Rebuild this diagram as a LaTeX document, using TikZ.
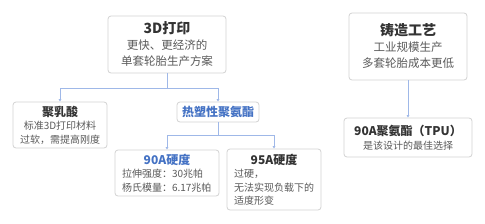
\documentclass[tikz,border=0pt]{standalone}
\usepackage{fontspec}
\setmainfont{Noto Sans CJK SC}
\usetikzlibrary{arrows.meta}
\definecolor{bordergray}{HTML}{D2D2D2}
\definecolor{connblue}{HTML}{9FB8E8}
\definecolor{titlegray}{HTML}{333333}
\definecolor{bodygray}{HTML}{5A5A5A}
\definecolor{accentblue}{HTML}{4472C4}
\newcommand{\lline}[2]{\makebox[#1][l]{#2}}
\tikzset{
  x=1pt, y=-1pt,
  card/.style={draw=bordergray, line width=0.8pt, rounded corners=3pt, fill=white,
    align=center, inner sep=0pt, text=bodygray},
  bigcard/.style={card, font=\fontsize{11.5}{16}\selectfont},
  smallcard/.style={card, font=\fontsize{10}{13.5}\selectfont},
  bigtitle/.style={},
  conn/.style={draw=connblue, line width=1pt},
  connarrow/.style={conn, -{Latex[length=2.6pt,width=3.2pt]}},
}
\newcommand{\bt}[1]{{\fontsize{14}{16}\selectfont\bfseries\color{titlegray}#1}}
\newcommand{\st}[1]{{\fontsize{12}{13.5}\selectfont\bfseries\color{titlegray}#1}}
\newcommand{\sbt}[1]{{\fontsize{12}{13.5}\selectfont\bfseries\color{accentblue}#1}}
\begin{document}
\begin{tikzpicture}
\useasboundingbox[fill=white] (0,0) rectangle (485,223);
\node[bigcard, minimum width=118pt, minimum height=57pt] (print3d) at (167,44.5)
  {\bt{3D打印}\\更快、更经济的\\单套轮胎生产方案};
\node[bigcard, minimum width=118pt, minimum height=67pt] (cast) at (408,46.5)
  {\bt{铸造工艺}\\工业规模生产\\多套轮胎成本更低};
\node[smallcard, minimum width=94pt, minimum height=46pt] (pla) at (60,125)
  {\st{聚乳酸}\\标准3D打印材料\\过软，需提高刚度};
\node[smallcard, minimum width=82pt, minimum height=20pt] (tpu) at (218,112)
  {\sbt{热塑性聚氨酯}};
\node[smallcard, minimum width=104pt, minimum height=46pt] (a90) at (167,173)
  {\sbt{90A硬度}\\\lline{90pt}{拉伸强度：30兆帕}\\\lline{90pt}{杨氏模量：6.17兆帕}};
\node[smallcard, minimum width=94pt, minimum height=61pt] (a95) at (274,179.5)
  {\st{95A硬度}\\\lline{80pt}{过硬，}\\\lline{80pt}{无法实现负载下的}\\\lline{80pt}{适度形变}};
\node[smallcard, minimum width=128pt, minimum height=39pt] (best) at (408,137.5)
  {\st{90A聚氨酯（TPU）}\\是该设计的最佳选择};
\coordinate (j1) at (167,88);
\coordinate (j2) at (218,135);
\draw[connarrow] (print3d.south) -- (j1) -| (pla.north);
\draw[connarrow] (print3d.south) -- (j1) -| (tpu.north);
\draw[connarrow] (tpu.south) -- (j2) -| (a90.north);
\draw[connarrow] (tpu.south) -- (j2) -| (a95.north);
\draw[connarrow] (cast.south) -- (best.north);
\end{tikzpicture}
\end{document}
